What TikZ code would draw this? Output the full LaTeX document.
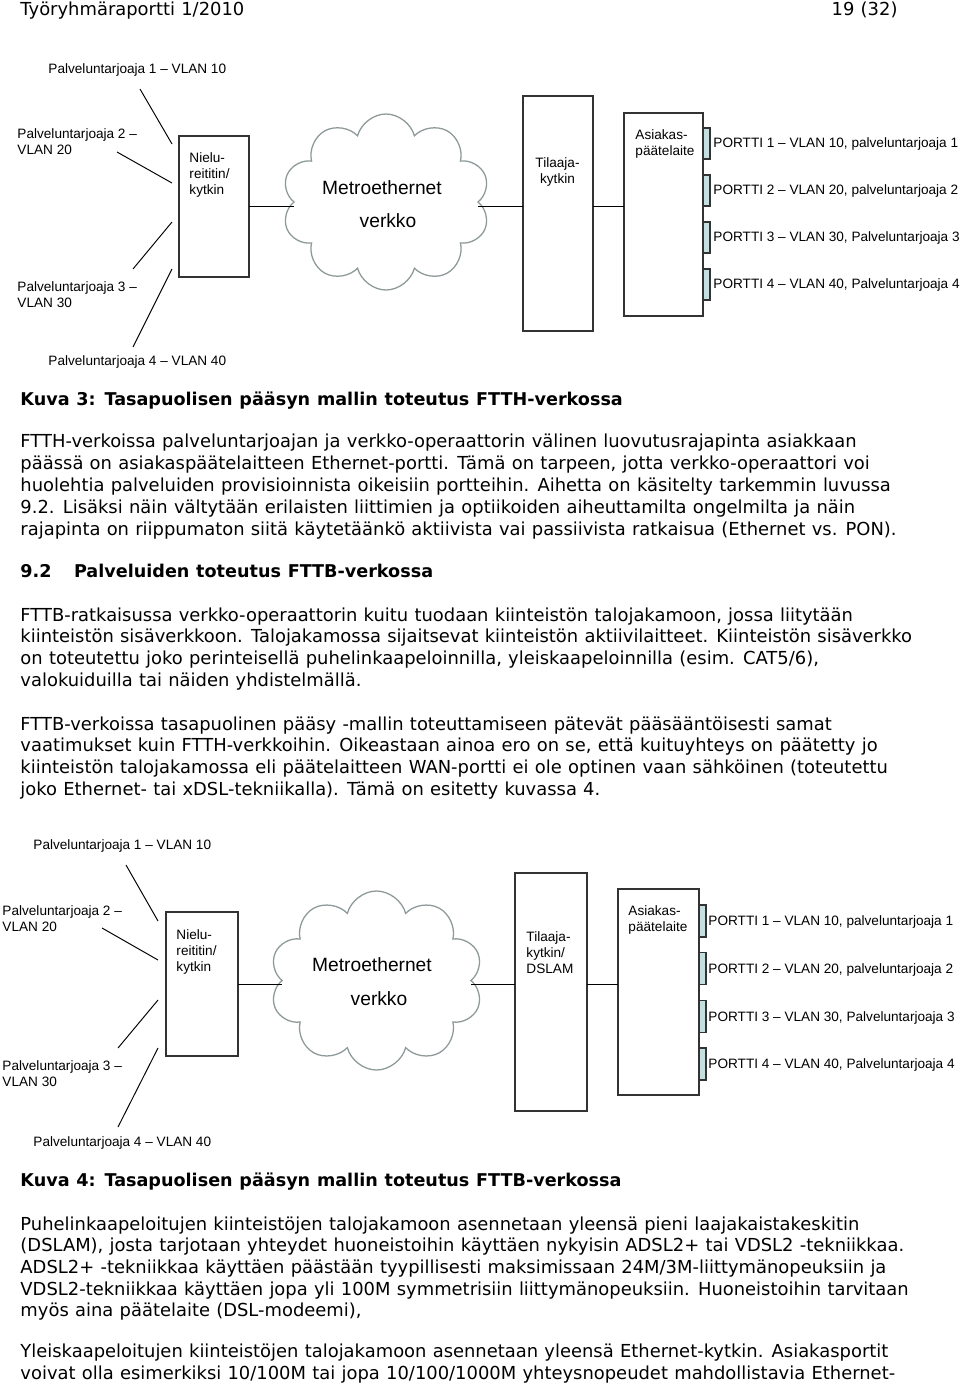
\documentclass[tikz,border=0pt]{standalone}
\usepackage{fontspec}
\setmainfont{DejaVu Sans}[WordSpace=1.1]
\newfontfamily\arialfont{Liberation Sans}
\usetikzlibrary{shapes.symbols}
\definecolor{portfill}{HTML}{C5DFE0}
\definecolor{cloudline}{HTML}{8E9999}
\definecolor{boxline}{HTML}{333333}

\begin{document}
\begin{tikzpicture}[x = 0.625pt, y = -0.625pt, line width = 0.6pt,
		box/.style = {draw = boxline, line width = 0.8pt, fill = white,
		inner sep = 0pt, outer sep = 0pt},
		port/.style = {draw = boxline, line width = 0.7pt, fill = portfill,
		inner sep = 0pt, outer sep = 0pt, minimum width = 4.375pt},
		puff/.style = {cloud, draw = cloudline, line width = 0.8pt,
		cloud puffs = 10, cloud ignores aspect, inner sep = 0pt, outer sep = 0pt},
		lbl/.style = {font = {\arialfont\fontsize{8.5}{10}\selectfont},
		inner sep = 0pt, anchor = base west},
		big/.style = {font = {\arialfont\fontsize{12}{14}\selectfont},
		inner sep = 0pt, anchor = base},
		txt/.style = {font = {\fontsize{11.2}{13}\selectfont},
		inner sep = 0pt, anchor = base west},
		heading/.style = {font = {\bfseries\fontsize{11}{13}\selectfont},
		inner sep = 0pt, anchor = base west}]

	\fill [white] (0,0) rectangle (960,1387);
	\useasboundingbox (0,0) rectangle (960,1387);

	\node [txt] (top_l) at (20,15) {Työryhmäraportti 1/2010};
	\node [txt, anchor = base east] (top_r) at (898,15) {19 (32)};

	\node [lbl] (p_1) at (48,73.3) {Palveluntarjoaja 1 – VLAN 10};
	\node [lbl] (p_2a) at (17,138.3) {Palveluntarjoaja 2 –};
	\node [lbl] (p_2b) at (17,154) {VLAN 20};
	\node [lbl] (p_3a) at (17,291.7) {Palveluntarjoaja 3 –};
	\node [lbl] (p_3b) at (17,307.3) {VLAN 30};
	\node [lbl] (p_4) at (48,365.7) {Palveluntarjoaja 4 – VLAN 40};

	\node [box, minimum width = 43.75pt, minimum height = 88.125pt] (nielu) at (214,206.5) {};
	\node [lbl] (nielu_1) at (189,162.5) {Nielu-};
	\node [lbl] (nielu_2) at (189,178.5) {reititin/};
	\node [lbl] (nielu_3) at (189,194.5) {kytkin};

	\node [puff, minimum width = 130pt, minimum height = 110pt] (metro) at (386,202) {};
	\node [big] (metro_1) at (382,194) {Metroethernet};
	\node [big] (metro_2) at (388,227) {verkko};

	\node [box, minimum width = 43.75pt, minimum height = 146.875pt] (tilaaja) at (558,213.5) {};
	\node [lbl, anchor = base] (tilaaja_1) at (557.5,167) {Tilaaja-};
	\node [lbl, anchor = base] (tilaaja_2) at (557.5,183) {kytkin};

	\node [box, minimum width = 49.375pt, minimum height = 126.875pt] (asiakas) at (663.5,214.5) {};
	\node [lbl] (asiakas_1) at (635,139) {Asiakas-};
	\node [lbl] (asiakas_2) at (635,155) {päätelaite};

	\node [port, minimum height = 19.375pt] (port_1) at (706.5,143.5) {};
	\node [port, minimum height = 19.375pt] (port_2) at (706.5,190.5) {};
	\node [port, minimum height = 19.375pt] (port_3) at (706.5,237.5) {};
	\node [port, minimum height = 19.375pt] (port_4) at (706.5,284.5) {};
	\node [lbl] (portti_1) at (713,147.5) {PORTTI 1 – VLAN 10, palveluntarjoaja 1};
	\node [lbl] (portti_2) at (713,194.5) {PORTTI 2 – VLAN 20, palveluntarjoaja 2};
	\node [lbl] (portti_3) at (713,241.5) {PORTTI 3 – VLAN 30, Palveluntarjoaja 3};
	\node [lbl] (portti_4) at (713,288.5) {PORTTI 4 – VLAN 40, Palveluntarjoaja 4};

	\coordinate (a_1) at (140,89);
	\coordinate (b_1) at (172,144);
	\coordinate (a_2) at (117,152);
	\coordinate (b_2) at (172,183);
	\coordinate (a_3) at (133,269);
	\coordinate (b_3) at (172,222);
	\coordinate (a_4) at (133,347);
	\coordinate (b_4) at (172,269);

	\draw (a_1) -- (b_1);
	\draw (a_2) -- (b_2);
	\draw (a_3) -- (b_3);
	\draw (a_4) -- (b_4);
	\draw (nielu.east) -- (nielu.east -| metro.west);
	\draw (nielu.east -| metro.east) -- (nielu.east -| tilaaja.west);
	\draw (nielu.east -| tilaaja.east) -- (nielu.east -| asiakas.west);

	\node [heading] (kuva_3) at (20,405.5) {Kuva 3: Tasapuolisen pääsyn mallin toteutus FTTH-verkossa};

	\node [txt] (t_1) at (20,447.5) {FTTH-verkoissa palveluntarjoajan ja verkko-operaattorin välinen luovutusrajapinta asiakkaan};
	\node [txt] (t_2) at (20,469.5) {päässä on asiakaspäätelaitteen Ethernet-portti. Tämä on tarpeen, jotta verkko-operaattori voi};
	\node [txt] (t_3) at (20,491.5) {huolehtia palveluiden provisioinnista oikeisiin portteihin. Aihetta on käsitelty tarkemmin luvussa};
	\node [txt] (t_4) at (20,513.5) {9.2. Lisäksi näin vältytään erilaisten liittimien ja optiikoiden aiheuttamilta ongelmilta ja näin};
	\node [txt] (t_5) at (20,535.5) {rajapinta on riippumaton siitä käytetäänkö aktiivista vai passiivista ratkaisua (Ethernet vs. PON).};

	\node [heading] (luku) at (20,577) {9.2\hspace{14pt}Palveluiden toteutus FTTB-verkossa};

	\node [txt] (t_6) at (20,621) {FTTB-ratkaisussa verkko-operaattorin kuitu tuodaan kiinteistön talojakamoon, jossa liitytään};
	\node [txt] (t_7) at (20,642.7) {kiinteistön sisäverkkoon. Talojakamossa sijaitsevat kiinteistön aktiivilaitteet. Kiinteistön sisäverkko};
	\node [txt] (t_8) at (20,664.4) {on toteutettu joko perinteisellä puhelinkaapeloinnilla, yleiskaapeloinnilla (esim. CAT5/6),};
	\node [txt] (t_9) at (20,686.1) {valokuiduilla tai näiden yhdistelmällä.};

	\node [txt] (t_10) at (20,730) {FTTB-verkoissa tasapuolinen pääsy -mallin toteuttamiseen pätevät pääsääntöisesti samat};
	\node [txt] (t_11) at (20,751.7) {vaatimukset kuin FTTH-verkkoihin. Oikeastaan ainoa ero on se, että kuituyhteys on päätetty jo};
	\node [txt] (t_12) at (20,773.4) {kiinteistön talojakamossa eli päätelaitteen WAN-portti ei ole optinen vaan sähköinen (toteutettu};
	\node [txt] (t_13) at (20,795.1) {joko Ethernet- tai xDSL-tekniikalla). Tämä on esitetty kuvassa 4.};

	\node [lbl] (q_1) at (33,849) {Palveluntarjoaja 1 – VLAN 10};
	\node [lbl] (q_2a) at (2,915.7) {Palveluntarjoaja 2 –};
	\node [lbl] (q_2b) at (2,931.7) {VLAN 20};
	\node [lbl] (q_3a) at (2,1070.7) {Palveluntarjoaja 3 –};
	\node [lbl] (q_3b) at (2,1086.7) {VLAN 30};
	\node [lbl] (q_4) at (33,1146.7) {Palveluntarjoaja 4 – VLAN 40};

	\node [box, minimum width = 45pt, minimum height = 90pt] (nielu2) at (202,984) {};
	\node [lbl] (nielu2_1) at (176,939.5) {Nielu-};
	\node [lbl] (nielu2_2) at (176,955.5) {reititin/};
	\node [lbl] (nielu2_3) at (176,971.5) {kytkin};

	\node [puff, minimum width = 133.125pt, minimum height = 111.875pt] (metro2) at (376.5,980.5) {};
	\node [big] (metro2_1) at (372,971.5) {Metroethernet};
	\node [big] (metro2_2) at (379,1005.5) {verkko};

	\node [box, minimum width = 45pt, minimum height = 148.75pt] (tilaaja2) at (551,992) {};
	\node [lbl] (tilaaja2_1) at (526,941) {Tilaaja-};
	\node [lbl] (tilaaja2_2) at (526,957) {kytkin/};
	\node [lbl] (tilaaja2_3) at (526,973) {DSLAM};

	\node [box, minimum width = 50.625pt, minimum height = 128.75pt] (asiakas2) at (658.5,992) {};
	\node [lbl] (asiakas2_1) at (628,915.5) {Asiakas-};
	\node [lbl] (asiakas2_2) at (628,931.5) {päätelaite};

	\node [port, minimum height = 20pt] (port2_1) at (702.5,921) {};
	\node [port, minimum height = 20pt] (port2_2) at (702.5,968.5) {};
	\node [port, minimum height = 20pt] (port2_3) at (702.5,1016.5) {};
	\node [port, minimum height = 20pt] (port2_4) at (702.5,1064) {};
	\node [lbl] (portti2_1) at (708,925.5) {PORTTI 1 – VLAN 10, palveluntarjoaja 1};
	\node [lbl] (portti2_2) at (708,973) {PORTTI 2 – VLAN 20, palveluntarjoaja 2};
	\node [lbl] (portti2_3) at (708,1021) {PORTTI 3 – VLAN 30, Palveluntarjoaja 3};
	\node [lbl] (portti2_4) at (708,1068.5) {PORTTI 4 – VLAN 40, Palveluntarjoaja 4};

	\coordinate (c_1) at (126,865);
	\coordinate (d_1) at (158,921);
	\coordinate (c_2) at (102,928);
	\coordinate (d_2) at (158,960);
	\coordinate (c_3) at (118,1048);
	\coordinate (d_3) at (158,1000);
	\coordinate (c_4) at (118,1127);
	\coordinate (d_4) at (158,1048);

	\draw (c_1) -- (d_1);
	\draw (c_2) -- (d_2);
	\draw (c_3) -- (d_3);
	\draw (c_4) -- (d_4);
	\draw (nielu2.east) -- (nielu2.east -| metro2.west);
	\draw (nielu2.east -| metro2.east) -- (nielu2.east -| tilaaja2.west);
	\draw (nielu2.east -| tilaaja2.east) -- (nielu2.east -| asiakas2.west);

	\node [heading] (kuva_4) at (20,1186) {Kuva 4: Tasapuolisen pääsyn mallin toteutus FTTB-verkossa};

	\node [txt] (t_14) at (20,1230) {Puhelinkaapeloitujen kiinteistöjen talojakamoon asennetaan yleensä pieni laajakaistakeskitin};
	\node [txt] (t_15) at (20,1251.7) {(DSLAM), josta tarjotaan yhteydet huoneistoihin käyttäen nykyisin ADSL2+ tai VDSL2 -tekniikkaa.};
	\node [txt] (t_16) at (20,1273.4) {ADSL2+ -tekniikkaa käyttäen päästään tyypillisesti maksimissaan 24M/3M-liittymänopeuksiin ja};
	\node [txt] (t_17) at (20,1295.1) {VDSL2-tekniikkaa käyttäen jopa yli 100M symmetrisiin liittymänopeuksiin. Huoneistoihin tarvitaan};
	\node [txt] (t_18) at (20,1316.8) {myös aina päätelaite (DSL-modeemi),};

	\node [txt] (t_19) at (20,1357) {Yleiskaapeloitujen kiinteistöjen talojakamoon asennetaan yleensä Ethernet-kytkin. Asiakasportit};
	\node [txt] (t_20) at (20,1379) {voivat olla esimerkiksi 10/100M tai jopa 10/100/1000M yhteysnopeudet mahdollistavia Ethernet-};
\end{tikzpicture}
\end{document}
